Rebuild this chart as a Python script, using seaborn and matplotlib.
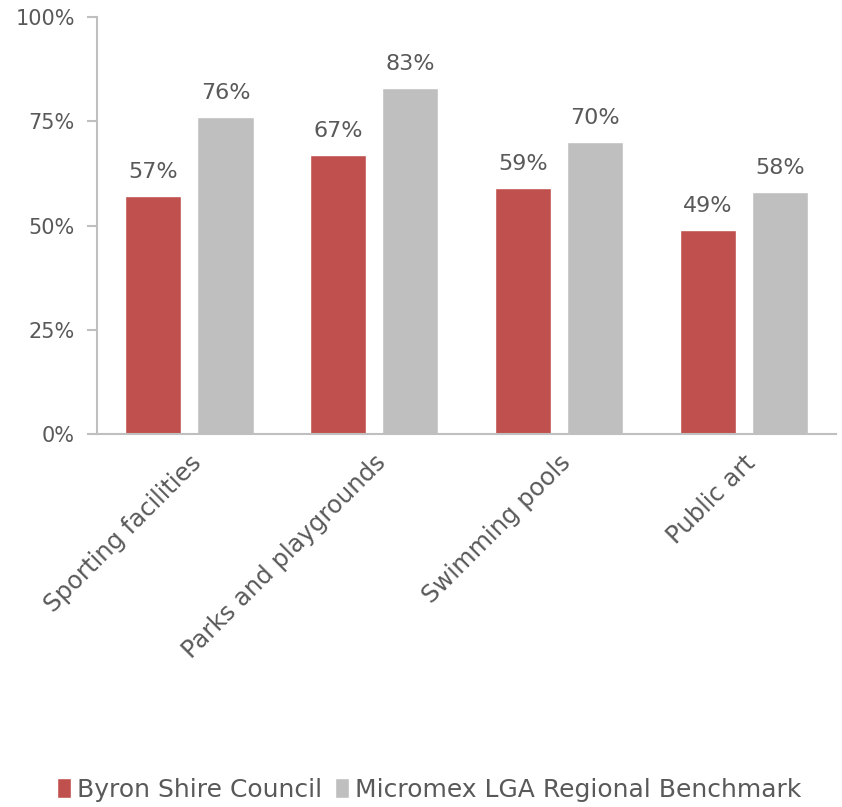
import matplotlib
matplotlib.use("Agg")
import matplotlib.pyplot as plt
import seaborn as sns
import pandas as pd

categories = ["Sporting facilities", "Parks and playgrounds", "Swimming pools", "Public art"]
series_names = ["Byron Shire Council", "Micromex LGA Regional Benchmark"]
byron = [57, 67, 59, 49]
benchmark = [76, 83, 70, 58]
yticks = [0, 25, 50, 75, 100]

sns.set_theme(style="white")
plt.rcParams["font.family"] = ["DejaVu Sans"]

text_col = "#595959"
axis_col = "#BFBFBF"
palette = {series_names[0]: "#C0504D", series_names[1]: "#BFBFBF"}

df = pd.DataFrame({
    "category": categories * 2,
    "series": [series_names[0]] * len(categories) + [series_names[1]] * len(categories),
    "value": byron + benchmark,
})

fig = plt.figure(figsize=(8.42, 8.07), dpi=100)
ax = fig.add_axes([0.1152, 0.4622, 0.8777, 0.5167])

sns.barplot(data=df, x="category", y="value", hue="series", order=categories,
            hue_order=series_names, palette=palette, width=0.78, gap=0.22,
            saturation=1, errorbar=None, ax=ax, legend=True)

for cont in ax.containers:
    ax.bar_label(cont, labels=[f"{v:.0f}%" for v in cont.datavalues], padding=10,
                 fontsize=16, color=text_col)

ax.set_ylim(0, 100)
ax.set_xlim(-0.5, len(categories) - 0.5)
ax.set_yticks(yticks)
ax.set_yticklabels([f"{t}%" for t in yticks], fontsize=15, color=text_col)
ax.set_xticks(range(len(categories)))
ax.set_xticklabels(categories, rotation=45, ha="right", rotation_mode="anchor",
                   fontsize=17.5, color=text_col)
ax.set_xlabel("")
ax.set_ylabel("")

for side in ["top", "right"]:
    ax.spines[side].set_visible(False)
for side in ["left", "bottom"]:
    ax.spines[side].set_color(axis_col)
    ax.spines[side].set_linewidth(1.5)
ax.tick_params(axis="y", which="major", left=True, length=7, width=1.5, color=axis_col,
               pad=9, labelcolor=text_col)
ax.tick_params(axis="x", which="major", bottom=False, length=0, pad=12, labelcolor=text_col)

handles, labels = ax.get_legend_handles_labels()
ax.get_legend().remove()
leg = fig.legend(handles, labels, loc="center", bbox_to_anchor=(0.51, 0.021), ncol=2,
                 frameon=False, fontsize=18, handlelength=0.55, handleheight=0.85,
                 handletextpad=0.25, columnspacing=0.5)
for t in leg.get_texts():
    t.set_color(text_col)

fig.savefig("out.png", dpi=100, facecolor="white")
